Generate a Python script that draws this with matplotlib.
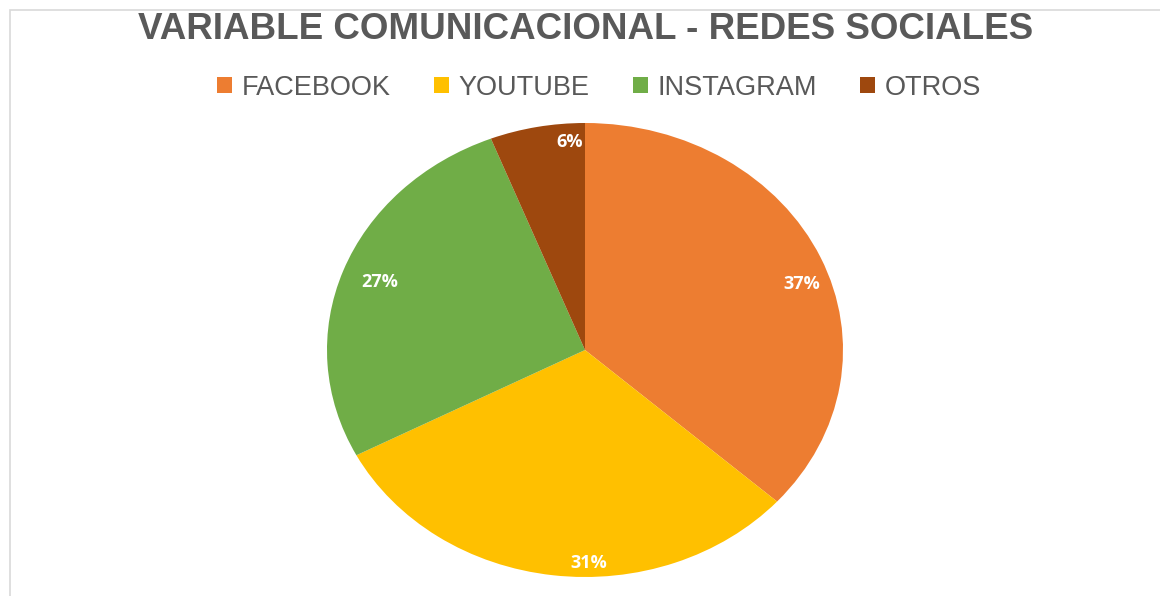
import matplotlib
matplotlib.use("Agg")
import matplotlib.pyplot as plt
from matplotlib.patches import Rectangle
import numpy as np

categories = ["FACEBOOK", "YOUTUBE", "INSTAGRAM", "OTROS"]
values = [37, 31, 27, 6]
colors = ["#ED7D31", "#FFC000", "#70AD47", "#9E480E"]
title = "VARIABLE COMUNICACIONAL - REDES SOCIALES"

plt.rcParams['font.family'] = ['Liberation Sans', 'DejaVu Sans']

W, H = 1160, 596
fig = plt.figure(figsize=(W / 100, H / 100), dpi=100)
fig.patch.set_facecolor("white")

# light frame
fig.patches.append(Rectangle((10 / W, -0.1), 1.2, 1.1 - 10 / H, transform=fig.transFigure,
                             fill=False, edgecolor="#D9D9D9", linewidth=1.2))

ax = fig.add_axes([327 / W, (H - 577) / H, 516 / W, 454 / H])
wedges, texts, autotexts = ax.pie(values, colors=colors, startangle=90, counterclock=False,
                                  autopct=lambda p: f"{p:.0f}%", pctdistance=0.88,
                                  wedgeprops=dict(linewidth=0),
                                  textprops=dict(color="white", fontsize=13, fontweight="bold",
                                                 family=['Open Sans', 'DejaVu Sans']))
# label placement (Excel "inside end" style)
dists = [0.89, 0.94, 0.85, 0.92]
ang_shift = [-5, 8, 0, -7]
for w, t, v, d, s in zip(wedges, autotexts, values, dists, ang_shift):
    ang = np.deg2rad((w.theta1 + w.theta2) / 2 + s)
    t.set_position((d * np.cos(ang), d * np.sin(ang)))
    t.set_text(f"{v}%")
ax.set_aspect("auto")
ax.set_xlim(-1, 1)
ax.set_ylim(-1, 1)
ax.axis("off")

fig.text(586 / W, 1 - 29.5 / H, title, ha="center", va="center", fontsize=26.5,
         fontweight="bold", color="#595959")

fig.legend(wedges, categories, loc="center", bbox_to_anchor=(599 / W, 1 - 87.5 / H),
           ncol=4, frameon=False, fontsize=19.5, labelcolor="#595959",
           handlelength=0.55, handleheight=0.55, handletextpad=0.35, columnspacing=1.6)

fig.savefig("out.png", dpi=100, facecolor="white")
